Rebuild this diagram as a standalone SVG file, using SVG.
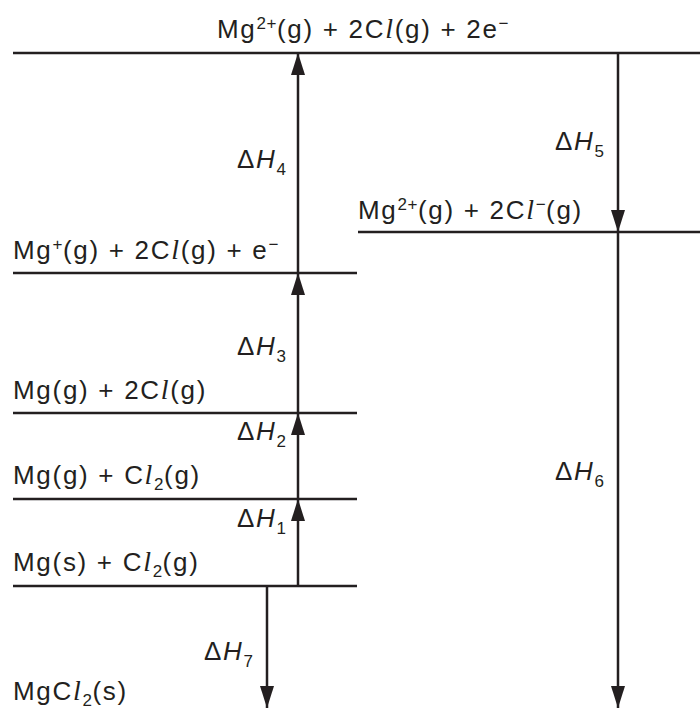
<svg xmlns="http://www.w3.org/2000/svg" width="700" height="709" viewBox="0 0 700 709">
<style>
.t{font-family:"Liberation Sans",Arial,sans-serif;font-size:26px;letter-spacing:1.7px;fill:#231f20}
.l{font-family:"Liberation Serif","Times New Roman",serif;font-style:italic;font-size:28px}
.i{font-style:italic}
.s{font-size:17px;letter-spacing:0.5px}
.ln{stroke:#231f20;stroke-width:2.5;fill:none}
</style>
<defs>
<marker id="ah" markerUnits="userSpaceOnUse" markerWidth="22" markerHeight="14" refX="22" refY="7" orient="auto" viewBox="0 0 22 14">
<path d="M0,0 L22,7 L0,14 Z" fill="#231f20"/>
</marker>
</defs>
<g id="levels">
<g id="L0"><line class="ln" x1="13" y1="53" x2="700" y2="53"/>
<text class="t" x="217" y="38">Mg<tspan class="s" dy="-9">2+</tspan><tspan dy="9">(g) + 2C</tspan><tspan class="l">l</tspan>(g) + 2e<tspan class="s" dy="-9">−</tspan></text></g>
<g id="L5"><line class="ln" x1="358" y1="232" x2="700" y2="232"/>
<text class="t" x="358" y="219">Mg<tspan class="s" dy="-9">2+</tspan><tspan dy="9">(g) + 2C</tspan><tspan class="l">l</tspan><tspan class="s" dy="-9">−</tspan><tspan dy="9">(g)</tspan></text></g>
<g id="L3"><line class="ln" x1="13" y1="273" x2="357" y2="273"/>
<text class="t" x="13" y="259">Mg<tspan class="s" dy="-9">+</tspan><tspan dy="9">(g) + 2C</tspan><tspan class="l">l</tspan>(g) + e<tspan class="s" dy="-9">−</tspan></text></g>
<g id="L2"><line class="ln" x1="13" y1="413" x2="357" y2="413"/>
<text class="t" x="13" y="399">Mg(g) + 2C<tspan class="l">l</tspan>(g)</text></g>
<g id="L1"><line class="ln" x1="13" y1="499" x2="357" y2="499"/>
<text class="t" x="13" y="484">Mg(g) + C<tspan class="l">l</tspan><tspan class="s" dy="6">2</tspan><tspan dy="-6">(g)</tspan></text></g>
<g id="Lstart"><line class="ln" x1="13" y1="586" x2="357" y2="586"/>
<text class="t" x="13" y="571">Mg(s) + C<tspan class="l">l</tspan><tspan class="s" dy="6">2</tspan><tspan dy="-6">(g)</tspan></text></g>
<g id="L7"><text class="t" x="13" y="700">MgC<tspan class="l">l</tspan><tspan class="s" dy="6">2</tspan><tspan dy="-6">(s)</tspan></text></g>
</g>
<g id="connectors">
<line class="ln" x1="298" y1="586" x2="298" y2="499" marker-end="url(#ah)"/>
<line class="ln" x1="298" y1="499" x2="298" y2="413" marker-end="url(#ah)"/>
<line class="ln" x1="298" y1="413" x2="298" y2="273" marker-end="url(#ah)"/>
<line class="ln" x1="298" y1="273" x2="298" y2="53" marker-end="url(#ah)"/>
<line class="ln" x1="618" y1="53" x2="618" y2="232" marker-end="url(#ah)"/>
<line class="ln" x1="618" y1="232" x2="618" y2="708" marker-end="url(#ah)"/>
<line class="ln" x1="267" y1="586" x2="267" y2="708" marker-end="url(#ah)"/>
</g>
<g id="labels">
<text class="t" x="237" y="168">Δ<tspan class="i">H</tspan><tspan class="s" dy="7">4</tspan></text>
<text class="t" x="555" y="150">Δ<tspan class="i">H</tspan><tspan class="s" dy="7">5</tspan></text>
<text class="t" x="237" y="355">Δ<tspan class="i">H</tspan><tspan class="s" dy="7">3</tspan></text>
<text class="t" x="237" y="440">Δ<tspan class="i">H</tspan><tspan class="s" dy="7">2</tspan></text>
<text class="t" x="237" y="527">Δ<tspan class="i">H</tspan><tspan class="s" dy="7">1</tspan></text>
<text class="t" x="555" y="480">Δ<tspan class="i">H</tspan><tspan class="s" dy="7">6</tspan></text>
<text class="t" x="204" y="660">Δ<tspan class="i">H</tspan><tspan class="s" dy="7">7</tspan></text>
</g>
</svg>
